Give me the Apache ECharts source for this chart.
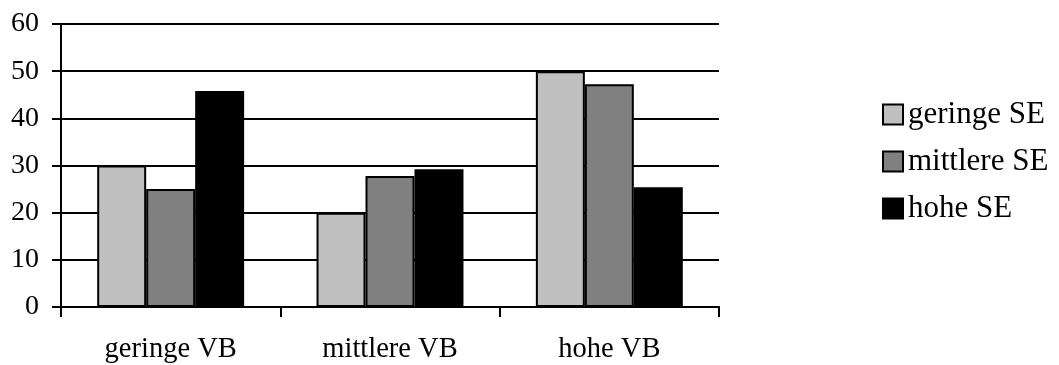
<!DOCTYPE html>
<html>
<head>
<meta charset="utf-8">
<script src="https://cdn.jsdelivr.net/npm/echarts@6/dist/echarts.min.js"></script>
<style>
html,body{margin:0;padding:0;background:#fff;}
#chart{width:1059px;height:365px;}
</style>
</head>
<body>
<div id="chart"></div>
<script>
const categories = ['geringe VB', 'mittlere VB', 'hohe VB'];
const seriesNames = ['geringe SE', 'mittlere SE', 'hohe SE'];
const geringeSE = [30, 20, 50];
const mittlereSE = [25, 27.8, 47.2];
const hoheSE = [45.8, 29.2, 25.4];
const yTicks = [0, 10, 20, 30, 40, 50, 60];
const colors = ['#C0C0C0', '#808080', '#000000'];

const font = '"Liberation Serif", "Times New Roman", serif';
const values = [geringeSE, mittlereSE, hoheSE];

const chart = echarts.init(document.getElementById('chart'), null, {renderer: 'canvas'});
chart.setOption({
  animation: false,
  backgroundColor: '#ffffff',
  grid: {left: 61, right: 340, top: 24, bottom: 58, containLabel: false, outerBoundsMode: 'none'},
  legend: {
    orient: 'vertical',
    left: 877, top: 94,
    padding: 5,
    itemWidth: 20, itemHeight: 20,
    itemGap: 16,
    textStyle: {fontFamily: font, fontSize: 31, color: '#000'},
    icon: 'rect',
    data: seriesNames,
    itemStyle: {borderColor: '#000', borderWidth: 2}
  },
  xAxis: {
    type: 'category',
    data: categories,
    axisLine: {lineStyle: {color: '#000', width: 2}},
    axisTick: {show: true, length: 10, lineStyle: {color: '#000', width: 2}},
    axisLabel: {fontFamily: font, fontSize: 28.5, color: '#000', margin: 28}
  },
  yAxis: {
    type: 'value',
    min: yTicks[0], max: yTicks[yTicks.length - 1], interval: 10,
    axisLine: {show: true, lineStyle: {color: '#000', width: 2}},
    axisTick: {show: true, length: 9, lineStyle: {color: '#000', width: 2}},
    axisLabel: {fontFamily: font, fontSize: 28, color: '#000', margin: 22},
    splitLine: {show: true, lineStyle: {color: '#000', width: 2}}
  },
  series: seriesNames.map((name, i) => ({
    name: name,
    type: 'bar',
    data: values[i],
    barGap: '0%',
    barCategoryGap: '33%',
    itemStyle: {color: colors[i], borderColor: '#000', borderWidth: 2}
  }))
});
</script>
</body>
</html>
